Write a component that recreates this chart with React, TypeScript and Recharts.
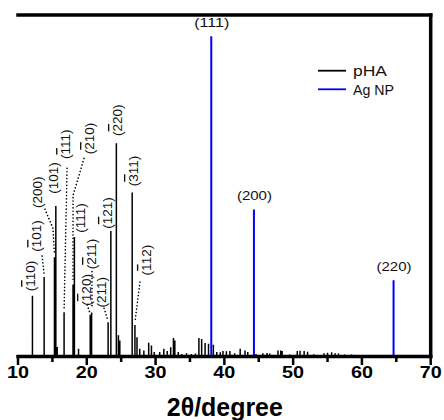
import React from "react";
import {
  LineChart,
  Line,
  XAxis,
  YAxis,
  ReferenceDot,
  Legend,
} from "recharts";

// pHA stick pattern (2θ in degrees, relative intensity)
const phaAngle = [
  12.1, 13.8, 15.3, 15.5, 15.7, 16.7, 18.0, 18.2, 18.8, 20.5, 20.7, 23.1,
  23.5, 24.3, 24.6, 24.8, 26.6, 27.0, 27.3, 27.7, 28.3, 29.0, 29.4, 29.8,
  30.6, 31.2, 31.7, 32.2, 32.6, 32.8, 33.3, 33.8, 34.5, 35.2, 35.8, 36.3,
  36.7, 37.2, 37.7, 38.4, 38.9, 39.4, 39.8, 40.3, 40.8, 41.5, 42.3, 43.0,
  43.4, 44.6, 45.6, 46.2, 46.6, 47.8, 48.2, 48.4, 49.5, 50.6, 51.0, 51.6,
  52.1, 53.0, 54.5, 55.0, 55.6, 56.1, 56.6, 57.5, 58.5, 59.5,
];
const phaIntensity = [
  19, 24.8, 31, 47, 3, 13.8, 22.5, 37.3, 2.4, 13, 13.7, 10.7,
  39.2, 66.6, 6.6, 5, 51.2, 9.8, 6, 2.4, 1.9, 4.3, 3.4, 1.4,
  1.4, 2.4, 1.7, 2.9, 5.8, 5, 1.4, 0.8, 1, 0.8, 0.9, 5.8,
  5.5, 4.2, 4, 3.7, 1.4, 1.3, 1.7, 1.6, 1.7, 1, 2.4, 1.9,
  1.4, 0.8, 1, 1.1, 0.9, 1.9, 1.9, 1.7, 0.6, 1.7, 1.8, 1.7,
  1.5, 0.7, 1, 1.2, 1.3, 1, 0.9, 0.6, 0.6, 0.5,
];

// Ag NP reference lines
const agAngle = [38.1, 44.3, 64.6];
const agIntensity = [100, 45.9, 23.8];

// Miller indices; "-" marks an overbar on the next digit
const phaLabelText = [
  "(-110)", "(-101)", "(200)", "(101)", "(-111)", "(-210)", "(111)",
  "(-120)", "(-211)", "(211)", "(-121)", "(-220)", "(-311)", "(-112)",
];
const phaLabelAngle = [
  12.1, 13.8, 15.3, 15.5, 16.7, 18.0, 18.2, 20.5, 20.7, 23.1, 23.5, 24.3, 26.6,
  27.0,
];
const agLabelText = ["(111)", "(200)", "(220)"];

const seriesNames = ["pHA", "Ag NP"];
const xTicks = [10, 15, 20, 25, 30, 35, 40, 45, 50, 55, 60, 65, 70];
const X_DOMAIN = [10, 70];
const Y_DOMAIN = [0, 106.6];

// label placement relative to the peak top, in px: [dx, dy, leader points]
const phaLabelPlace: [number, number, number[][]][] = [
  [-2.4, -19.6, []],
  [-8, -41, [[-2, -21], [0, -3]]],
  [-17.5, -65, [[-9.5, -48], [-1.5, -29], [0, -3]]],
  [-2.8, -28, []],
  [1, -168, [[3, -144], [0, -3]]],
  [16, -146, [[11, -126], [0, -89], [0, -3]]],
  [5.6, -19, []],
  [-4.2, -25, [[-3, -10], [-0.7, -3]]],
  [-0.6, -58.6, [[0.4, -41], [0.4, -4]]],
  [-7.1, -30, [[-4, -14], [-0.6, -3]]],
  [-3.9, -18, []],
  [0.6, -23, []],
  [0.8, -21.5, []],
  [11, -65, [[5, -43], [0, -3]]],
];

const FONT = "'Liberation Sans', Arial, sans-serif";
const frameLine = { stroke: "#000", strokeWidth: 3.5, strokeLinecap: "square" };

// each stick goes up and back down; a null breaks the path between sticks
const sticks = (angles: number[], values: number[]) =>
  angles.flatMap((a, i) => [
    { x: a, y: 0 },
    { x: a, y: values[i] },
    { x: a, y: 0 },
    { x: a, y: null },
  ]);

const phaData = sticks(phaAngle, phaIntensity);
const agData = sticks(agAngle, agIntensity);

function Hkl({ text }: { text: string }) {
  const parts: React.ReactNode[] = [];
  for (let i = 0; i < text.length; i++) {
    if (text[i] === "-") {
      parts.push(
        <tspan key={i} style={{ textDecoration: "overline" }}>
          {text[i + 1]}
        </tspan>
      );
      i++;
    } else {
      parts.push(<tspan key={i}>{text[i]}</tspan>);
    }
  }
  return <>{parts}</>;
}

function RotatedLabel(props: any) {
  const { cx, cy, text, place } = props;
  const [dx, dy, leader] = place;
  const tx = cx + dx;
  const ty = cy + dy;
  const pts = leader.map((p: number[]) => `${cx + p[0]},${cy + p[1]}`).join(" ");
  return (
    <g>
      {leader.length > 1 && (
        <polyline
          points={pts}
          fill="none"
          stroke="#000"
          strokeWidth={1.6}
          strokeDasharray="0.1 3.3"
          strokeLinecap="round"
        />
      )}
      <text
        x={tx}
        y={ty}
        transform={`rotate(-90 ${tx} ${ty})`}
        textAnchor="middle"
        dominantBaseline="central"
        fontSize={13.5}
        fontFamily={FONT}
        fill="#111"
      >
        <Hkl text={text} />
      </text>
    </g>
  );
}

function AgLabel(props: any) {
  const { cx, cy, text } = props;
  return (
    <text
      x={cx + 0.5}
      y={cy - 9}
      textAnchor="middle"
      fontSize={13}
      fontFamily={FONT}
      fill="#111"
      textLength={35}
      lengthAdjust="spacingAndGlyphs"
    >
      {text}
    </text>
  );
}

function AxisTick(props: any) {
  const { x, y, payload } = props;
  const major = payload.value % 10 === 0;
  return (
    <g>
      <line
        x1={x}
        x2={x}
        y1={y}
        y2={y + (major ? 8.5 : 5.5)}
        stroke="#000"
        strokeWidth={2.5}
      />
      {major && (
        <text
          x={x}
          y={y + 21.5}
          textAnchor="middle"
          fontSize={17}
          fontWeight="bold"
          fontFamily={FONT}
          fill="#000"
          textLength={22}
          lengthAdjust="spacingAndGlyphs"
        >
          {payload.value}
        </text>
      )}
    </g>
  );
}

function LegendBox(props: any) {
  const entries = seriesNames
    .map((n) => (props.payload || []).find((e: any) => e.value === n))
    .filter(Boolean);
  return (
    <svg width={110} height={44}>
      {entries.map((entry: any, i: number) => (
        <g key={entry.value}>
          <line
            x1={2}
            x2={30}
            y1={12.7 + i * 18.6}
            y2={12.7 + i * 18.6}
            stroke={entry.color}
            strokeWidth={1.8}
          />
          <text
            x={37}
            y={18 + i * 19}
            fontSize={14}
            fontFamily={FONT}
            fill="#111"
            textLength={i === 0 ? 34 : 41}
            lengthAdjust="spacingAndGlyphs"
          >
            {entry.value}
          </text>
        </g>
      ))}
    </svg>
  );
}

export default function App() {
  return (
    <div style={{ position: "absolute", left: 0, top: 0, background: "#fff" }}>
      <LineChart
        width={444}
        height={420}
        margin={{ top: 14, right: 12.3, left: 18, bottom: 0 }}
      >
        <XAxis
          dataKey="x"
          type="number"
          domain={X_DOMAIN}
          ticks={xTicks}
          interval={0}
          axisLine={frameLine}
          tickLine={false}
          tickSize={0}
          tickMargin={0}
          height={63.5}
          tick={<AxisTick />}
          allowDataOverflow
          label={{
            content: (p: any) => {
              const vb = p.viewBox;
              return (
                <text
                  x={vb.x + vb.width / 2 + 0.5}
                  y={vb.y + 59.2}
                  textAnchor="middle"
                  fontSize={25}
                  fontWeight="bold"
                  fontFamily={FONT}
                  fill="#000"
                  textLength={116}
                  lengthAdjust="spacingAndGlyphs"
                >
                  2θ/degree
                </text>
              );
            },
          }}
        />
        {/* same scale on the top and right, drawn only as the box edges */}
        <XAxis
          xAxisId="top"
          orientation="top"
          dataKey="x"
          type="number"
          domain={X_DOMAIN}
          height={1}
          tick={false}
          tickLine={false}
          axisLine={frameLine}
          allowDataOverflow
        />
        <YAxis
          type="number"
          domain={Y_DOMAIN}
          width={0}
          tick={false}
          tickLine={false}
          axisLine={frameLine}
          allowDataOverflow
        />
        <YAxis
          yAxisId="right"
          orientation="right"
          type="number"
          domain={Y_DOMAIN}
          width={1}
          tick={false}
          tickLine={false}
          axisLine={frameLine}
          allowDataOverflow
        />
        <Line
          data={phaData}
          dataKey="y"
          name="pHA"
          stroke="#000"
          strokeWidth={1.5}
          dot={false}
          activeDot={false}
          connectNulls={false}
          legendType="line"
          isAnimationActive={false}
        />
        <Line
          data={agData}
          xAxisId="top"
          yAxisId="right"
          dataKey="y"
          name="Ag NP"
          stroke="#0000ff"
          strokeWidth={2}
          dot={false}
          activeDot={false}
          connectNulls={false}
          legendType="line"
          isAnimationActive={false}
        />
        {phaLabelText.map((t, i) => {
          const a = phaLabelAngle[i];
          const h = phaIntensity[phaAngle.indexOf(a)];
          return (
            <ReferenceDot
              key={t + i}
              x={a}
              y={h}
              r={0}
              ifOverflow="visible"
              shape={(p: any) => (
                <RotatedLabel cx={p.cx} cy={p.cy} text={t} place={phaLabelPlace[i]} />
              )}
            />
          );
        })}
        {agLabelText.map((t, i) => (
          <ReferenceDot
            key={t}
            xAxisId="top"
            yAxisId="right"
            x={agAngle[i]}
            y={agIntensity[i]}
            r={0}
            ifOverflow="visible"
            shape={(p: any) => <AgLabel cx={p.cx} cy={p.cy} text={t} />}
          />
        ))}
        <Legend
          layout="horizontal"
          verticalAlign="middle"
          align="center"
          content={<LegendBox />}
          wrapperStyle={{ left: 316, top: 58, width: 110, height: 44 }}
        />
      </LineChart>
    </div>
  );
}
